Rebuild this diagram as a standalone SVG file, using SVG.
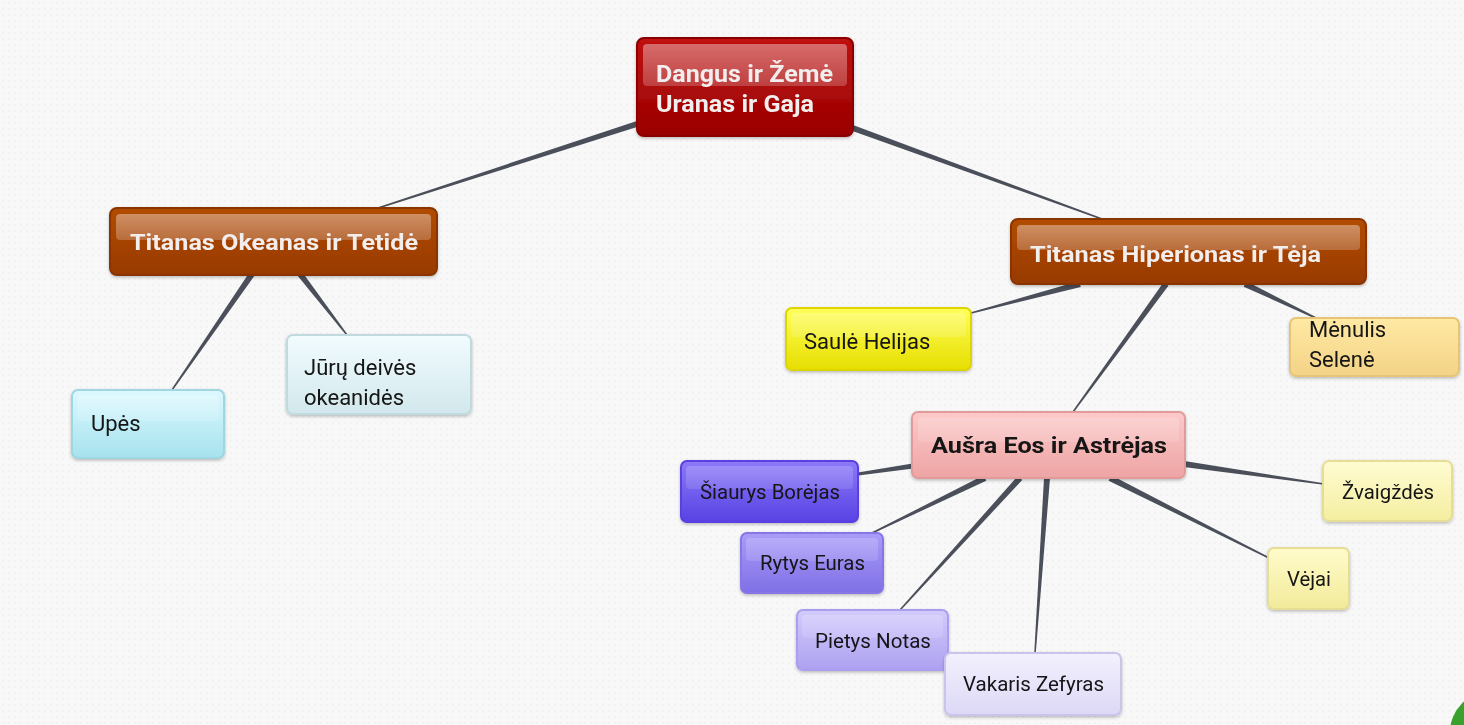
<svg xmlns="http://www.w3.org/2000/svg" width="1464" height="725" viewBox="0 0 1464 725">
<style>
.t{font-family:Roboto,"Liberation Sans",sans-serif}
.tb{font-family:Roboto,"Liberation Sans",sans-serif;font-weight:bold}
.w{fill:#f3eeee}
.k{fill:#141414}
.hl{fill:url(#hlg)}
.c{fill:#4a4f5a}
</style>
<defs>
<pattern id="dots" width="6" height="6" patternUnits="userSpaceOnUse">
<rect width="6" height="6" fill="#f8f8f8"/>
<circle cx="3" cy="3" r="0.7" fill="#e8e8ea"/>
</pattern>
<filter id="sh" x="-10%" y="-10%" width="120%" height="130%">
<feDropShadow dx="0" dy="1.5" stdDeviation="1.5" flood-color="#000" flood-opacity="0.25"/>
</filter>
<linearGradient id="hlg" x1="0" y1="0" x2="0" y2="1">
<stop offset="0" stop-color="#fff" stop-opacity="0.38"/>
<stop offset="1" stop-color="#fff" stop-opacity="0.22"/>
</linearGradient>
<linearGradient id="gRoot" x1="0" y1="0" x2="0" y2="1"><stop offset="0" stop-color="#c01212"/><stop offset="1" stop-color="#990000"/></linearGradient>
<linearGradient id="gBrown" x1="0" y1="0" x2="0" y2="1"><stop offset="0" stop-color="#b24c06"/><stop offset="1" stop-color="#983a00"/></linearGradient>
<linearGradient id="gUpes" x1="0" y1="0" x2="0" y2="1"><stop offset="0" stop-color="#dcf9ff"/><stop offset="1" stop-color="#a6e2ee"/></linearGradient>
<linearGradient id="gJuru" x1="0" y1="0" x2="0" y2="1"><stop offset="0" stop-color="#f2fcff"/><stop offset="1" stop-color="#d2e8ec"/></linearGradient>
<linearGradient id="gSaule" x1="0" y1="0" x2="0" y2="1"><stop offset="0" stop-color="#ffff58"/><stop offset="1" stop-color="#e6de00"/></linearGradient>
<linearGradient id="gMen" x1="0" y1="0" x2="0" y2="1"><stop offset="0" stop-color="#ffe9a4"/><stop offset="1" stop-color="#f3d386"/></linearGradient>
<linearGradient id="gAus" x1="0" y1="0" x2="0" y2="1"><stop offset="0" stop-color="#fccaca"/><stop offset="1" stop-color="#eea4a4"/></linearGradient>
<linearGradient id="gSia" x1="0" y1="0" x2="0" y2="1"><stop offset="0" stop-color="#8c7af8"/><stop offset="1" stop-color="#5842e4"/></linearGradient>
<linearGradient id="gRyt" x1="0" y1="0" x2="0" y2="1"><stop offset="0" stop-color="#aa9cf8"/><stop offset="1" stop-color="#7f70e6"/></linearGradient>
<linearGradient id="gPie" x1="0" y1="0" x2="0" y2="1"><stop offset="0" stop-color="#d2cbfc"/><stop offset="1" stop-color="#ada1f0"/></linearGradient>
<linearGradient id="gVak" x1="0" y1="0" x2="0" y2="1"><stop offset="0" stop-color="#f3f1fe"/><stop offset="1" stop-color="#dcd8f6"/></linearGradient>
<linearGradient id="gZva" x1="0" y1="0" x2="0" y2="1"><stop offset="0" stop-color="#fffcd2"/><stop offset="1" stop-color="#f4eea0"/></linearGradient>
<linearGradient id="gVej" x1="0" y1="0" x2="0" y2="1"><stop offset="0" stop-color="#fffccb"/><stop offset="1" stop-color="#f2ea9a"/></linearGradient>
</defs>
<rect width="1464" height="725" fill="url(#dots)"/>
<circle cx="1490" cy="732" r="40" fill="#3aa12c"/>

<g id="connectors">
<polygon class="c" points="639.07,120.15 374.77,208.29 375.23,209.71 640.93,125.85"/>
<polygon class="c" points="848.97,129.82 1101.74,219.70 1102.26,218.30 851.03,124.18"/>
<polygon class="c" points="249.53,272.30 171.38,389.57 172.62,390.43 254.47,275.70"/>
<polygon class="c" points="297.62,275.83 346.41,335.46 347.59,334.54 302.38,272.17"/>
<polygon class="c" points="1079.23,281.10 970.81,312.28 971.19,313.72 1080.77,286.90"/>
<polygon class="c" points="1243.70,286.70 1317.68,319.68 1318.32,318.32 1246.30,281.30"/>
<polygon class="c" points="1163.57,282.24 1072.39,411.56 1073.61,412.44 1168.43,285.76"/>
<polygon class="c" points="912.64,463.53 857.78,472.52 858.22,475.48 913.36,468.47"/>
<polygon class="c" points="983.69,475.30 871.67,532.33 872.33,533.67 986.31,480.70"/>
<polygon class="c" points="1017.78,475.98 899.44,609.50 900.56,610.50 1022.22,480.02"/>
<polygon class="c" points="1044.01,477.79 1034.25,652.95 1035.75,653.05 1049.99,478.21"/>
<polygon class="c" points="1183.58,466.97 1323.89,484.74 1324.11,483.26 1184.42,461.03"/>
<polygon class="c" points="1108.65,480.68 1268.66,558.67 1269.34,557.33 1111.35,475.32"/>
</g>

<g id="root" filter="url(#sh)">
<rect x="637" y="38" width="216" height="98" rx="7" fill="url(#gRoot)" stroke="#8a0000" stroke-width="2"/>
<rect class="hl" x="643" y="44" width="204" height="42" rx="4"/>
<text class="tb w" x="656" y="82" font-size="23" textLength="177" lengthAdjust="spacingAndGlyphs">Dangus ir Žemė</text>
<text class="tb w" x="656" y="112" font-size="23" textLength="158" lengthAdjust="spacingAndGlyphs">Uranas ir Gaja</text>
</g>

<g id="okeanas" filter="url(#sh)">
<rect x="110" y="208" width="327" height="67" rx="7" fill="url(#gBrown)" stroke="#8a3600" stroke-width="2"/>
<rect class="hl" x="116" y="214" width="315" height="26" rx="4"/>
<text class="tb w" x="130" y="250" font-size="22" textLength="288" lengthAdjust="spacingAndGlyphs">Titanas Okeanas ir Tetidė</text>
</g>

<g id="hiperionas" filter="url(#sh)">
<rect x="1011" y="219" width="355" height="65" rx="7" fill="url(#gBrown)" stroke="#8a3600" stroke-width="2"/>
<rect class="hl" x="1017" y="225" width="343" height="25" rx="4"/>
<text class="tb w" x="1030" y="262" font-size="22" textLength="291" lengthAdjust="spacingAndGlyphs">Titanas Hiperionas ir Tėja</text>
</g>

<g id="upes" filter="url(#sh)">
<rect x="72" y="390" width="152" height="68" rx="6" fill="url(#gUpes)" stroke="#9fd6e0" stroke-width="2"/>
<rect class="hl" x="77" y="395" width="142" height="26" rx="4" opacity="0.6"/>
<text class="t k" x="91" y="431" font-size="22">Upės</text>
</g>

<g id="juru" filter="url(#sh)">
<rect x="287" y="335" width="184" height="79" rx="6" fill="url(#gJuru)" stroke="#c0dadf" stroke-width="2"/>
<text class="t k" x="304" y="375" font-size="22">Jūrų deivės</text>
<text class="t k" x="304" y="405" font-size="22">okeanidės</text>
</g>

<g id="saule" filter="url(#sh)">
<rect x="786" y="308" width="185" height="62" rx="6" fill="url(#gSaule)" stroke="#ddd400" stroke-width="2"/>
<rect class="hl" x="791" y="313" width="175" height="24" rx="4" opacity="0.6"/>
<text class="t k" x="804" y="349" font-size="22">Saulė Helijas</text>
</g>

<g id="menulis" filter="url(#sh)">
<rect x="1290" y="318" width="169" height="58" rx="6" fill="url(#gMen)" stroke="#e6c676" stroke-width="2"/>
<text class="t k" x="1309" y="337" font-size="22">Mėnulis</text>
<text class="t k" x="1309" y="367" font-size="22">Selenė</text>
</g>

<g id="ausra" filter="url(#sh)">
<rect x="912" y="412" width="273" height="66" rx="6" fill="url(#gAus)" stroke="#e29a9a" stroke-width="2"/>
<rect class="hl" x="918" y="418" width="261" height="24" rx="4" opacity="0.5"/>
<text class="tb k" x="931" y="453" font-size="22" textLength="236" lengthAdjust="spacingAndGlyphs">Aušra Eos ir Astrėjas</text>
</g>

<g id="siaurys" filter="url(#sh)">
<rect x="681" y="461" width="177" height="61" rx="6" fill="url(#gSia)" stroke="#5a3fe0" stroke-width="2"/>
<rect class="hl" x="686" y="466" width="167" height="23" rx="4" opacity="0.5"/>
<text class="t k" x="700" y="499" font-size="19.5" textLength="140" lengthAdjust="spacingAndGlyphs">Šiaurys Borėjas</text>
</g>

<g id="rytys" filter="url(#sh)">
<rect x="741" y="533" width="142" height="60" rx="6" fill="url(#gRyt)" stroke="#8676e6" stroke-width="2"/>
<rect class="hl" x="746" y="538" width="132" height="23" rx="4" opacity="0.5"/>
<text class="t k" x="760" y="570" font-size="19.5" textLength="105" lengthAdjust="spacingAndGlyphs">Rytys Euras</text>
</g>

<g id="pietys" filter="url(#sh)">
<rect x="797" y="610" width="151" height="60" rx="6" fill="url(#gPie)" stroke="#a99ef0" stroke-width="2"/>
<rect class="hl" x="802" y="615" width="141" height="23" rx="4" opacity="0.5"/>
<text class="t k" x="815" y="648" font-size="19.5" textLength="116" lengthAdjust="spacingAndGlyphs">Pietys Notas</text>
</g>

<g id="vakaris" filter="url(#sh)">
<rect x="945" y="653" width="176" height="62" rx="6" fill="url(#gVak)" stroke="#c9c4ec" stroke-width="2"/>
<text class="t k" x="963" y="691" font-size="19.5" textLength="141" lengthAdjust="spacingAndGlyphs">Vakaris Zefyras</text>
</g>

<g id="zvaigzdes" filter="url(#sh)">
<rect x="1323" y="461" width="129" height="60" rx="6" fill="url(#gZva)" stroke="#e6de96" stroke-width="2"/>
<text class="t k" x="1342" y="499" font-size="19.5" textLength="92" lengthAdjust="spacingAndGlyphs">Žvaigždės</text>
</g>

<g id="vejai" filter="url(#sh)">
<rect x="1268" y="548" width="81" height="61" rx="6" fill="url(#gVej)" stroke="#e6de96" stroke-width="2"/>
<text class="t k" x="1287" y="586" font-size="19.5" textLength="44" lengthAdjust="spacingAndGlyphs">Vėjai</text>
</g>
</svg>
